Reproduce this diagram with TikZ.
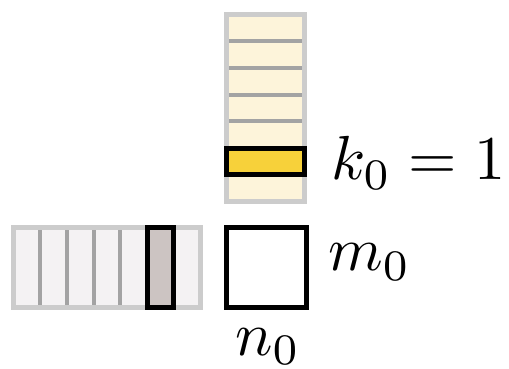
\documentclass[tikz,border=0pt]{standalone}
\usetikzlibrary{calc}
\definecolor{vfill}{HTML}{FDF4DA}
\definecolor{hfill}{HTML}{F4F2F3}
\definecolor{lborder}{HTML}{CCCCCC}
\definecolor{gline}{HTML}{A3A3A3}
\definecolor{gold}{HTML}{F7D13A}
\definecolor{taupe}{HTML}{CCC4C2}
\tikzset{
  strip/.style={draw=lborder, line width=5bp},
  cellline/.style={draw=gline, line width=4bp},
  sel/.style={draw=black, line width=5bp},
  lab/.style={inner sep=0pt, scale=6.25, transform shape}
}
\begin{document}
\begin{tikzpicture}[x=1bp,y=-1bp]
\useasboundingbox (0,0) rectangle (509,368);
% vertical strip
\fill[vfill] (226.5,14.5) rectangle (304.5,201.5);
\foreach \i in {1,...,4} {
  \draw[cellline] (224,14.5+\i*26.7) -- (307,14.5+\i*26.7);
}
\draw[strip] (226.5,14.5) rectangle (304.5,201.5);
\draw[sel, fill=gold] (226.5,148) rectangle (304.5,174.7);
% horizontal strip
\fill[hfill] (13.5,227.5) rectangle (200.4,307.5);
\foreach \i in {1,...,4} {
  \draw[cellline] (13.5+\i*26.7,225) -- (13.5+\i*26.7,310);
}
\draw[strip] (13.5,227.5) rectangle (200.4,307.5);
\draw[sel, fill=taupe] (147,227.5) rectangle (173.7,307.5);
% result square
\node[sel, fill=white, minimum width=80bp, minimum height=80bp, inner sep=0pt, outer sep=0pt, anchor=north west] (sq) at (226.5,227.5) {};
% labels
\node[lab, anchor=west] (k) at (330,163) {$k_0 = 1$};
\node[lab, anchor=west] (m) at (327,262) {$m_0$};
\node[lab, anchor=north] (n) at ($(sq.south)+(1.5,20)$) {$n_0$};
\end{tikzpicture}
\end{document}
